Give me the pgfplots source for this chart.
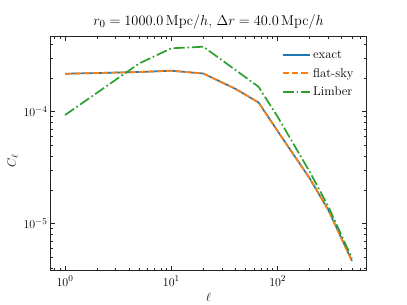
\documentclass[border=0pt]{standalone}
\usepackage{pgfplots}
\pgfplotsset{compat=1.18}
\definecolor{tabblue}{HTML}{1F77B4}
\definecolor{taborange}{HTML}{FF7F0E}
\definecolor{tabgreen}{HTML}{2CA02C}
\begin{document}
\begin{tikzpicture}
\path[use as bounding box] (0,0) rectangle (407bp,305bp);
\begin{axis}[
  at={(50.7bp,34.3bp)}, anchor=south west,
  scale only axis, width=315.6bp, height=234bp,
  xmode=log, ymode=log,
  xmin=0.733, xmax=682, ymin=3.8e-6, ymax=4.67e-4,
  axis line style={line width=0.9bp, black!85},
  every tick/.append style={black!85, line width=0.8bp},
  tick align=inside,
  major tick length=4.4bp, minor tick length=2.5bp,
  ticklabel style={font=\fontsize{12.5}{15}\selectfont},
  xticklabel style={anchor=base, yshift=-15.3bp, inner sep=0pt},
  yticklabel style={anchor=east, xshift=-3bp, inner sep=0pt},
  xlabel={$\ell$}, ylabel={$C_\ell$},
  label style={font=\fontsize{12.5}{15}\selectfont},
  xlabel style={at={(axis description cs:0.5,0)}, anchor=base, yshift=-30.3bp, inner sep=0pt},
  ylabel style={at={(axis description cs:-0.1204,0.47)}, anchor=center, inner sep=0pt},
  title={$r_0 = 1000.0\,\mathrm{Mpc}/h$, $\Delta r = 40.0\,\mathrm{Mpc}/h$},
  title style={at={(axis description cs:0.5,1)}, anchor=base, yshift=5.7bp, inner sep=0pt, font=\fontsize{15}{18}\selectfont},
  every axis plot/.append style={line width=1.7bp},
  legend cell align=left,
  legend style={at={(axis description cs:0.7319,0.9504)}, anchor=north west,
    draw=none, fill=none, inner sep=0pt, row sep=4.2bp,
    font=\fontsize{12.8}{15}\selectfont},
  legend image code/.code={\draw[mark repeat=2,mark phase=2,#1,line width=1.7bp] plot coordinates {(0bp,0bp) (13.8bp,0bp) (27.6bp,0bp)};},
]
\addplot[color=tabblue] coordinates {
 (1,2.18e-4) (5,2.26e-4) (10,2.32e-4) (20,2.19e-4) (40,1.6e-4) (66,1.21e-4)
 (100,6.7e-5) (200,2.54e-5) (300,1.32e-5) (500,4.65e-6)};
\addlegendentry{exact}
\addplot[color=taborange, dash pattern=on 6.4bp off 2.8bp] coordinates {
 (1,2.18e-4) (5,2.26e-4) (10,2.32e-4) (20,2.19e-4) (40,1.6e-4) (66,1.21e-4)
 (100,6.7e-5) (200,2.54e-5) (300,1.32e-5) (500,4.62e-6)};
\addlegendentry{flat-sky}
\addplot[color=tabgreen, dash pattern=on 11bp off 2.8bp on 1.7bp off 2.8bp] coordinates {
 (1,9.33e-5) (5,2.70e-4) (10,3.68e-4) (20,3.80e-4) (40,2.36e-4) (66,1.67e-4)
 (100,9.0e-5) (200,2.91e-5) (300,1.42e-5) (500,4.9e-6)};
\addlegendentry{Limber}
\end{axis}
\end{tikzpicture}
\end{document}
